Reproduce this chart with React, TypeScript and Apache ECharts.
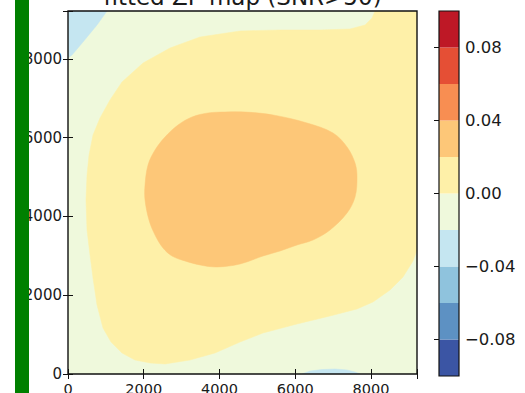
import React, { useEffect, useRef } from "react";
import * as echarts from "echarts";

// ---- data (detector pixel coordinates, contour regions) ----
const extent = 9216;
const xTicks = [0, 2000, 4000, 6000, 8000];
const yTicks = [0, 2000, 4000, 6000, 8000];
const levels = [-0.1, -0.08, -0.06, -0.04, -0.02, 0.0, 0.02, 0.04, 0.06, 0.08, 0.1];
const levelColors = [
  "#3b55a4", "#5d91c3", "#8fc3dd", "#c5e6f1", "#eff9dc",
  "#fef0a8", "#fdc778", "#f88e52", "#e54f35", "#be1826",
];
const cbTicks = [-0.08, -0.04, 0.0, 0.04, 0.08];

// region polygons: [x, y] in data units, level = index of band in levelColors
const regionBackground: [number, number][] = [
  [0, 0], [9216, 0], [9216, 9216], [0, 9216],
];
const regionBlueTopLeft: [number, number][] = [
  [0, 9216], [1030, 9216], [766, 8861], [396, 8429], [106, 8099], [0, 8023],
];
const regionBlueBottom: [number, number][] = [
  [6180, 0], [6391, 76], [6708, 114], [7051, 127], [7368, 102], [7580, 51], [7712, 0],
];
const regionYellow: [number, number][] = [
  [8108, 9216], [9216, 9216], [9216, 3148], [9111, 2869], [8847, 2463], [8504, 2133],
  [8055, 1828], [7632, 1650], [6919, 1473], [6048, 1270], [5150, 1041], [4543, 812],
  [3882, 533], [3222, 355], [2562, 254], [2166, 279], [1769, 355], [1426, 533],
  [1136, 812], [924, 1168], [766, 1752], [660, 2437], [581, 3021], [502, 3656],
  [475, 4418], [502, 5053], [555, 5560], [660, 6068], [845, 6500], [1109, 6957],
  [1426, 7414], [1981, 7896], [2694, 8277], [3486, 8556], [4543, 8709], [5599, 8734],
  [6655, 8734], [7448, 8760], [7844, 8861], [8029, 9039],
];
const regionOrange: [number, number][] = [
  [4146, 6652], [4675, 6652], [5414, 6576], [6312, 6373], [6999, 6119], [7368, 5764],
  [7580, 5357], [7632, 5002], [7580, 4494], [7368, 4088], [6919, 3656], [6470, 3402],
  [6048, 3275], [5599, 3123], [5150, 2996], [4543, 2793], [3935, 2717], [3486, 2768],
  [3090, 2869], [2747, 2996], [2509, 3199], [2298, 3529], [2139, 3910], [2034, 4418],
  [2034, 4799], [2113, 5307], [2298, 5687], [2562, 6017], [2905, 6322], [3275, 6525],
  [3697, 6627],
];

const regions = [
  { pts: regionBackground, level: 4, closedCurve: false },
  { pts: regionBlueTopLeft, level: 3, closedCurve: false },
  { pts: regionBlueBottom, level: 3, closedCurve: false },
  { pts: regionYellow, level: 5, closedCurve: false },
  { pts: regionOrange, level: 6, closedCurve: true },
];

const titleText = "fitted ZP map (SNR>50)";
const FONT = "DejaVu Sans";

export default function App() {
  const ref = useRef<HTMLDivElement>(null);
  useEffect(() => {
    if (!ref.current) return;
    const chart = echarts.init(ref.current, undefined, { renderer: "svg" });
    const tickFmt = (v: number) => (xTicks.indexOf(v) >= 0 ? String(v) : "");
    const cbFmt = (v: number) =>
      (v < -1e-9 ? "\u2212" : "") + Math.abs(v).toFixed(2);
    const bands = levelColors.map((c, i) => [levels[i], levels[i + 1], i]);

    chart.setOption({
      animation: false,
      backgroundColor: "#ffffff",
      textStyle: { fontFamily: FONT },
      grid: [
        {
          left: 68, top: 11, width: 349, height: 363,
          containLabel: false, outerBoundsMode: "none",
          show: true, z: 10, backgroundColor: "transparent",
          borderColor: "#111", borderWidth: 1.4,
        },
        {
          left: 439, top: 11, width: 20, height: 365,
          containLabel: false, outerBoundsMode: "none",
          show: true, z: 10, backgroundColor: "transparent",
          borderColor: "#111", borderWidth: 1.2,
        },
      ],
      xAxis: [
        {
          type: "value", gridIndex: 0, min: 0, max: extent, interval: 2000, z: 10,
          axisLine: { show: false },
          axisTick: { inside: true, length: 5, lineStyle: { color: "#111", width: 1 } },
          splitLine: { show: false },
          axisLabel: {
            formatter: tickFmt, margin: 7, color: "#1a1a1a",
            fontSize: 14.5, fontFamily: FONT,
          },
        },
        {
          type: "value", gridIndex: 0, position: "top", min: 0, max: extent,
          interval: 2000, z: 10,
          axisLine: { show: false },
          axisTick: { inside: true, length: 5, lineStyle: { color: "#111", width: 1 } },
          splitLine: { show: false },
          axisLabel: { show: false },
        },
        {
          type: "value", gridIndex: 1, min: 0, max: 1, show: false,
        },
      ],
      yAxis: [
        {
          type: "value", gridIndex: 0, min: 0, max: extent, interval: 2000, z: 10,
          axisLine: { show: false },
          axisTick: { inside: true, length: 5, lineStyle: { color: "#111", width: 1 } },
          splitLine: { show: false },
          axisLabel: {
            formatter: (v: number) => (yTicks.indexOf(v) >= 0 ? String(v) : ""),
            margin: 6, color: "#1a1a1a", fontSize: 15, fontFamily: FONT,
          },
        },
        {
          type: "value", gridIndex: 0, position: "right", min: 0, max: extent,
          interval: 2000, z: 10,
          axisLine: { show: false },
          axisTick: { inside: true, length: 5, lineStyle: { color: "#111", width: 1 } },
          splitLine: { show: false },
          axisLabel: { show: false },
        },
        {
          type: "value", gridIndex: 1, position: "right", min: -0.1, max: 0.1, z: 10,
          axisLine: { show: false },
          splitLine: { show: false },
          axisTick: {
            inside: true, length: 5, customValues: cbTicks,
            lineStyle: { color: "#111", width: 1 },
          },
          axisLabel: {
            customValues: cbTicks, formatter: cbFmt, margin: 6,
            color: "#1a1a1a", fontSize: 16.5, fontFamily: FONT,
          },
        },
      ],
      series: [
        {
          type: "custom",
          xAxisIndex: 0,
          yAxisIndex: 0,
          clip: true,
          z: 2,
          data: regions.map((r) => [r.pts[0][0], r.pts[0][1]]),
          renderItem: (params: any, api: any) => {
            const r = regions[params.dataIndex];
            const points = r.pts.map((p) => api.coord(p));
            return {
              type: "polygon",
              shape: { points, smooth: r.closedCurve ? 0.35 : 0 },
              style: { fill: levelColors[r.level], stroke: levelColors[r.level], lineWidth: 0.5 },
            };
          },
        },
        {
          type: "custom",
          xAxisIndex: 2,
          yAxisIndex: 2,
          z: 2,
          data: bands,
          renderItem: (params: any, api: any) => {
            const lo = api.value(0);
            const hi = api.value(1);
            const p0 = api.coord([0, hi]);
            const p1 = api.coord([1, lo]);
            return {
              type: "rect",
              shape: { x: p0[0], y: p0[1], width: p1[0] - p0[0], height: p1[1] - p0[1] },
              style: { fill: levelColors[api.value(2)] },
            };
          },
        },
      ],
      graphic: [
        {
          type: "text",
          x: 242.5,
          y: -3,
          z: 50,
          style: {
            text: titleText,
            fill: "#1a1a1a",
            font: `23px "${FONT}"`,
            align: "center",
            verticalAlign: "middle",
          },
        },
        {
          type: "rect",
          z: 100,
          shape: { x: 15, y: 0, width: 14, height: 393 },
          style: { fill: "#008000" },
        },
      ],
    });
    return () => chart.dispose();
  }, []);
  return (
    <div
      ref={ref}
      style={{ position: "fixed", left: 0, top: 0, width: 525, height: 393 }}
    />
  );
}
